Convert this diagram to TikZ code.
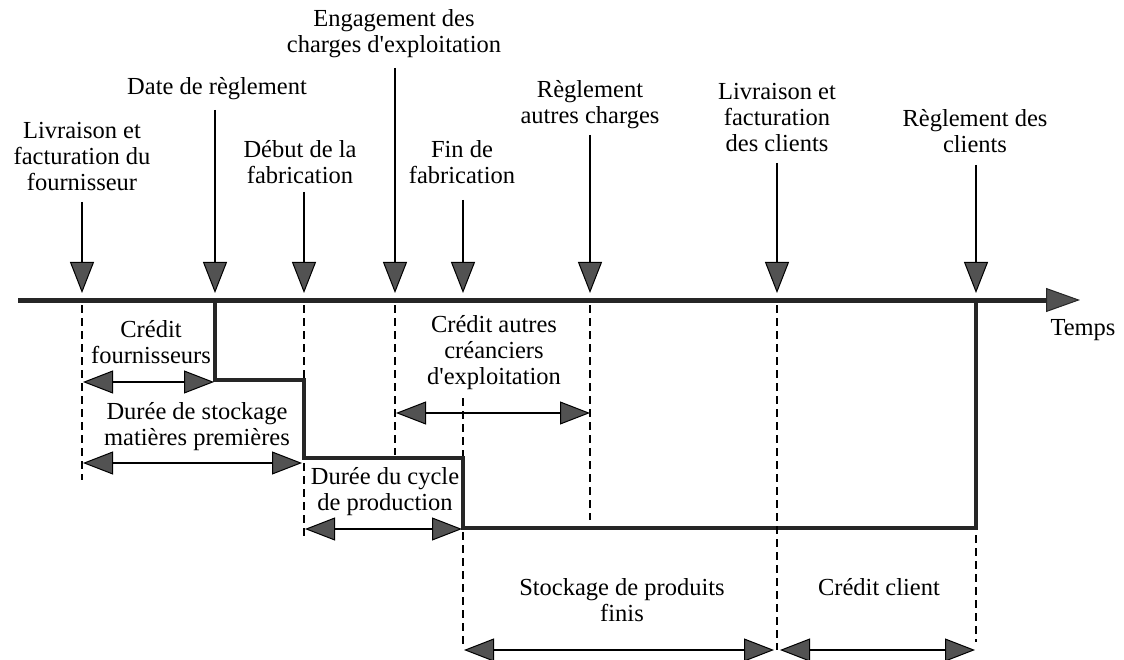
\documentclass[tikz,border=0pt]{standalone}
\usepackage{fontspec}
\setmainfont{Liberation Serif}
\usetikzlibrary{arrows.meta}
\definecolor{ink}{gray}{0.15}
\definecolor{headfill}{gray}{0.32}
\begin{document}
\begin{tikzpicture}[x=1pt,y=-1pt,
  lab/.style={align=center,inner sep=0pt,font=\fontsize{24.5}{26}\selectfont},
  evt/.style={line width=1.6pt,-{Triangle[width=24pt,length=31pt,fill=headfill,line width=1pt]}},
  span/.style={line width=1.5pt,{Triangle[width=23pt,length=30pt,fill=headfill,line width=1pt]}-{Triangle[width=23pt,length=30pt,fill=headfill,line width=1pt]}},
  guide/.style={line width=2.6pt,dash pattern=on 8pt off 5pt},
  axis/.style={line width=5pt,draw=ink,-{Triangle[width=24pt,length=34pt,fill=headfill,line width=1pt]}},
  stepline/.style={line width=4.5pt,draw=ink,line join=miter}]
\useasboundingbox (0,0) rectangle (1124,660);

% labels of events
\node[lab] (l1) at (82,157) {Livraison et\\facturation du\\fournisseur};
\node[lab] (l2) at (217,89) {Date de règlement};
\node[lab] (l3) at (300,162) {Début de la\\fabrication};
\node[lab] (l4) at (394,34) {Engagement des\\charges d\textquotesingle exploitation};
\node[lab] (l5) at (462,162) {Fin de\\fabrication};
\node[lab] (l6) at (590,105) {Règlement\\autres charges};
\node[lab] (l7) at (777,118) {Livraison et\\facturation\\des clients};
\node[lab] (l8) at (975,131) {Règlement des\\clients};
\node[lab] (temps) at (1083,330) {Temps};

% labels of durations
\node[lab] (s1) at (151,342) {Crédit\\fournisseurs};
\node[lab] (s2) at (197,427) {Durée de stockage\\matières premières};
\node[lab] (s3) at (494,353) {Crédit autres\\créanciers\\d\textquotesingle exploitation};
\node[lab] (s4) at (385,492) {Durée du cycle\\de production};
\node[lab] (s5) at (622,600) {Stockage de produits\\finis};
\node[lab] (s6) at (879,587) {Crédit client};

% coordinates
\coordinate (a1) at (82,202);  \coordinate (b1) at (82,293);
\coordinate (a2) at (215,110); \coordinate (b2) at (215,293);
\coordinate (a3) at (304,192); \coordinate (b3) at (304,293);
\coordinate (a4) at (395,68);  \coordinate (b4) at (395,293);
\coordinate (a5) at (463,200); \coordinate (b5) at (463,293);
\coordinate (a6) at (590,135); \coordinate (b6) at (590,293);
\coordinate (a7) at (777,163); \coordinate (b7) at (777,293);
\coordinate (a8) at (976,165); \coordinate (b8) at (976,293);
\coordinate (T0) at (18,300);  \coordinate (T1) at (1080,300);

% timeline
\draw[axis] (T0) -- (T1);

% event arrows
\foreach \i in {1,...,8} \draw[evt] (a\i) -- (b\i);

% step line
\coordinate (p0) at (215,300); \coordinate (p1) at (215,380);
\coordinate (p2) at (304,380); \coordinate (p3) at (304,458);
\coordinate (p4) at (463,458); \coordinate (p5) at (463,528);
\coordinate (p6) at (976,528); \coordinate (p7) at (976,300);
\draw[stepline] (p0) -- (p1) -- (p2) -- (p3) -- (p4) -- (p5) -- (p6) -- (p7);

% dashed guides
\coordinate (g1a) at (82,305);  \coordinate (g1b) at (82,480);
\coordinate (g3a) at (304,305); \coordinate (g3b) at (304,378);
\coordinate (g3c) at (304,463); \coordinate (g3d) at (304,537);
\coordinate (g4a) at (395,305); \coordinate (g4b) at (395,455);
\coordinate (g5a) at (463,398); \coordinate (g5b) at (463,456);
\coordinate (g5c) at (463,532); \coordinate (g5d) at (463,648);
\coordinate (g6a) at (590,305); \coordinate (g6b) at (590,520);
\coordinate (g7a) at (777,305); \coordinate (g7b) at (777,650);
\coordinate (g8a) at (976,535); \coordinate (g8b) at (976,642);
\draw[guide] (g1a) -- (g1b);
\draw[guide] (g3a) -- (g3b);
\draw[guide] (g3c) -- (g3d);
\draw[guide] (g4a) -- (g4b);
\draw[guide] (g5a) -- (g5b);
\draw[guide] (g5c) -- (g5d);
\draw[guide] (g6a) -- (g6b);
\draw[guide] (g7a) -- (g7b);
\draw[guide] (g8a) -- (g8b);

% duration arrows
\coordinate (d1a) at (83,382);  \coordinate (d1b) at (214,382);
\coordinate (d2a) at (83,463);  \coordinate (d2b) at (302,463);
\coordinate (d3a) at (396,413); \coordinate (d3b) at (590,413);
\coordinate (d4a) at (305,529); \coordinate (d4b) at (462,529);
\coordinate (d5a) at (464,650); \coordinate (d5b) at (774,650);
\coordinate (d6a) at (780,650); \coordinate (d6b) at (975,650);
\draw[span] (d1a) -- (d1b);
\draw[span] (d2a) -- (d2b);
\draw[span] (d3a) -- (d3b);
\draw[span] (d4a) -- (d4b);
\draw[span] (d5a) -- (d5b);
\draw[span] (d6a) -- (d6b);
\end{tikzpicture}
\end{document}
